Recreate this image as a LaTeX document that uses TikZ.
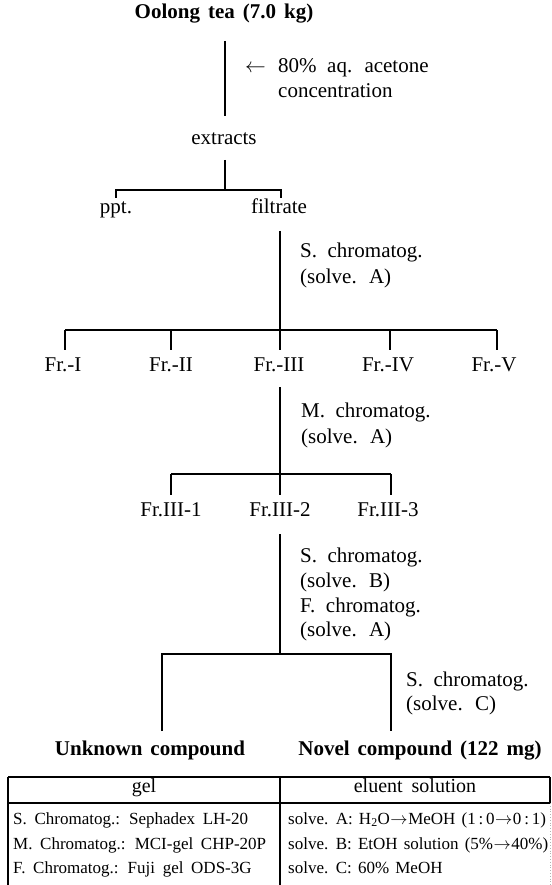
\documentclass[tikz,border=0pt]{standalone}
\usepackage{fontspec}
\setmainfont{Liberation Serif}
\newcommand\myfontA{\fontsize{21}{25}\selectfont\spaceskip=0.5em plus 0.1em\relax}
\newcommand\myfontB{\fontsize{21}{25}\selectfont\bfseries\spaceskip=0.38em plus 0.1em\relax}
\newcommand\myfontC{\fontsize{17}{20}\selectfont\spaceskip=0.45em plus 0.1em\relax}
\newcommand\myfontD{\fontsize{17}{20}\selectfont\spaceskip=0.36em plus 0.1em\relax}
\newcommand\myfontH{\fontsize{20}{24}\selectfont\spaceskip=0.45em plus 0.1em\relax}
\newcommand\myarr{\kern0.5pt$\rightarrow$\kern0.5pt}
\begin{document}
\begin{tikzpicture}[x=1pt,y=-1pt,
  ln/.style={line width=1.3pt},
  tl/.style={line width=1.1pt},
  lbl/.style={font=\myfontA, inner sep=0pt, anchor=mid},
  lbll/.style={lbl, anchor=mid west},
  bld/.style={font=\myfontB, inner sep=0pt, anchor=mid},
  tbl/.style={font=\myfontC, inner sep=0pt, anchor=mid west},
  tbr/.style={font=\myfontD, inner sep=0pt, anchor=mid west},
  tbh/.style={font=\myfontH, inner sep=0pt, anchor=mid}]
\useasboundingbox[fill=white] (0,0) rectangle (551,885);

% top
\node[bld] (title) at (224,16) {Oolong tea (7.0 kg)};
\coordinate (a1) at (225,41); \coordinate (a2) at (225,116);
\draw[ln] (a1) -- (a2);
\node[lbll] (arr) at (245,70) {$\leftarrow$};
\node[lbll] (ac1) at (278,70) {80\% aq. acetone};
\node[lbll] (ac2) at (278,95) {concentration};
\node[lbl] (extracts) at (224,142) {extracts};
\coordinate (b1) at (225,160); \coordinate (b2) at (225,190);
\coordinate (bL) at (116,190); \coordinate (bR) at (281,190);
\coordinate (bLd) at (116,198); \coordinate (bRd) at (281,198);
\draw[ln] (b1) -- (b2);
\draw[ln] (bLd) -- (bL) -- (bR) -- (bRd);
\node[lbl] (ppt) at (116,211) {ppt.};
\node[lbl] (filtrate) at (279,211) {filtrate};

% first chromatography
\coordinate (c1) at (280,231); \coordinate (c2) at (280,330);
\draw[ln] (c1) -- (c2);
\node[lbll] (s1a) at (300,255) {S. chromatog.};
\node[lbll] (s1b) at (300,281) {(solve. A)};
\coordinate (cL) at (65,330); \coordinate (cR) at (497,330);
\draw[ln] (cL) -- (cR);
\foreach \x/\n in {65/f1,171/f2,280/f3,390/f4,497/f5}{
  \coordinate (\n t) at (\x,330); \coordinate (\n b) at (\x,350);
  \draw[ln] (\n t) -- (\n b);}
\node[lbl] (fr1) at (63,369) {Fr.-I};
\node[lbl] (fr2) at (171,369) {Fr.-II};
\node[lbl] (fr3) at (279,369) {Fr.-III};
\node[lbl] (fr4) at (388,369) {Fr.-IV};
\node[lbl] (fr5) at (494,369) {Fr.-V};

% second chromatography
\coordinate (d1) at (280,387); \coordinate (d2) at (280,474);
\draw[ln] (d1) -- (d2);
\node[lbll] (m1a) at (301,415) {M. chromatog.};
\node[lbll] (m1b) at (301,441) {(solve. A)};
\coordinate (dL) at (171,474); \coordinate (dR) at (391,474);
\draw[ln] (dL) -- (dR);
\foreach \x/\n in {171/g1,280/g2,391/g3}{
  \coordinate (\n t) at (\x,474); \coordinate (\n b) at (\x,495);
  \draw[ln] (\n t) -- (\n b);}
\node[lbl] (fr31) at (171,514) {Fr.III-1};
\node[lbl] (fr32) at (280,514) {Fr.III-2};
\node[lbl] (fr33) at (388,514) {Fr.III-3};

% third chromatography
\coordinate (e1) at (280,534); \coordinate (e2) at (280,654);
\draw[ln] (e1) -- (e2);
\node[lbll] (t1) at (300,560) {S. chromatog.};
\node[lbll] (t2) at (300,585) {(solve. B)};
\node[lbll] (t3) at (300,610) {F. chromatog.};
\node[lbll] (t4) at (300,634) {(solve. A)};
\coordinate (eL) at (162,654); \coordinate (eR) at (391,654);
\coordinate (eLd) at (162,731); \coordinate (eRd) at (391,731);
\draw[ln] (eLd) -- (eL) -- (eR) -- (eRd);
\node[lbll] (u1) at (406,684) {S. chromatog.};
\node[lbll] (u2) at (406,708) {(solve. C)};
\node[bld] (unknown) at (150,753) {Unknown compound};
\node[bld] (novel) at (420,753) {Novel compound (122 mg)};

% table
\coordinate (tTL) at (8,777); \coordinate (tTR) at (550,777);
\coordinate (tHL) at (8,803); \coordinate (tHR) at (550,803);
\coordinate (tBL) at (8,885); \coordinate (tTM) at (280,777); \coordinate (tBM) at (280,885);
\coordinate (tBR) at (550,885);
\draw[tl] (tTL) -- (tTR);
\draw[tl] (tHL) -- (tHR);
\draw[tl] (tTL) -- (tBL);
\draw[tl] (tTM) -- (tBM);
\draw[tl] (tTR) -- (tHR);
\draw[line width=0.8pt, gray!60, dotted] (tHR) -- (tBR);
\node[tbh] (gel) at (144,790) {gel};
\node[tbh] (eluent) at (415,790) {eluent solution};
\node[tbl] (r1) at (13,822) {S. Chromatog.: Sephadex LH-20};
\node[tbl] (r2) at (13,847) {M. Chromatog.: MCI-gel CHP-20P};
\node[tbl] (r3) at (13,871) {F. Chromatog.: Fuji gel ODS-3G};
\node[tbr] (q1) at (288,822) {solve. A: H\textsubscript{2}O\myarr MeOH (1\,:\,0\myarr 0\,:\,1)};
\node[tbr] (q2) at (288,847) {solve. B: EtOH solution (5\%\myarr 40\%)};
\node[tbr] (q3) at (288,871) {solve. C: 60\% MeOH};
\end{tikzpicture}
\end{document}
